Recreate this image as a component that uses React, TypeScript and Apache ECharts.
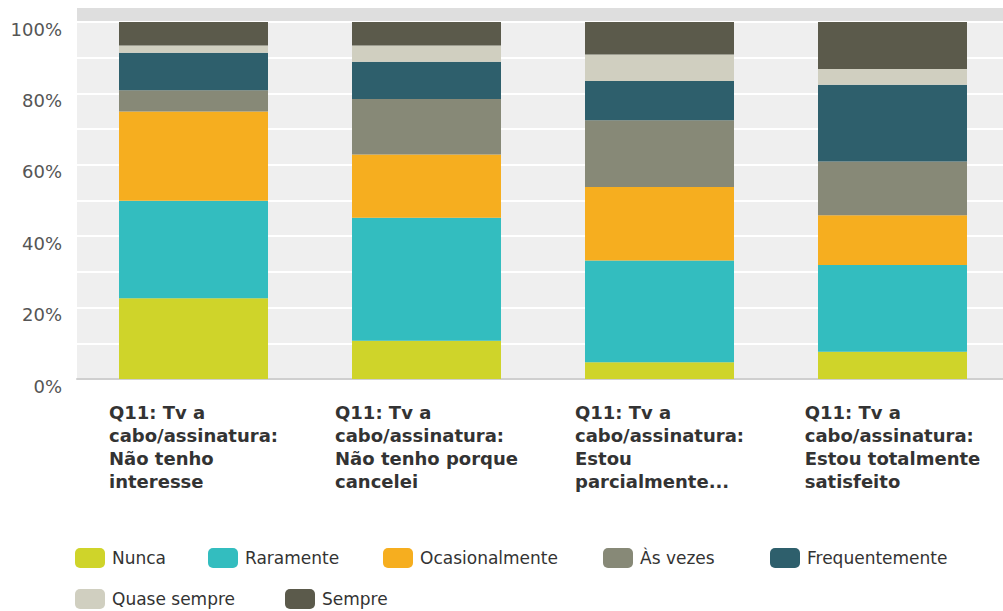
import React, { useEffect, useRef } from "react";
import * as echarts from "echarts";

const categories = [
  "Q11: Tv a\ncabo/assinatura:\nNão tenho\ninteresse",
  "Q11: Tv a\ncabo/assinatura:\nNão tenho porque\ncancelei",
  "Q11: Tv a\ncabo/assinatura:\nEstou\nparcialmente...",
  "Q11: Tv a\ncabo/assinatura:\nEstou totalmente\nsatisfeito",
];

const seriesNames = [
  "Nunca",
  "Raramente",
  "Ocasionalmente",
  "Às vezes",
  "Frequentemente",
  "Quase sempre",
  "Sempre",
];

const nunca = [22.6, 10.7, 4.7, 7.6];
const raramente = [27.3, 34.5, 28.5, 24.3];
const ocasionalmente = [25.0, 17.7, 20.6, 14.0];
const asVezes = [6.0, 15.5, 18.7, 15.0];
const frequentemente = [10.5, 10.5, 11.0, 21.5];
const quaseSempre = [2.0, 4.5, 7.4, 4.4];
const sempre = [6.6, 6.6, 9.1, 13.2];

const seriesValues = [nunca, raramente, ocasionalmente, asVezes, frequentemente, quaseSempre, sempre];

const colors = ["#cfd42a", "#33bdbf", "#f6ae1f", "#878977", "#2e5f6c", "#d0cfc0", "#5b5a4b"];

const yTicks = [0, 20, 40, 60, 80, 100];

// legend item placement (left, top) for each series
const legendLeft = [75, 208, 383, 603, 770, 75, 285];
const legendTop = [548, 548, 548, 548, 548, 589, 589];

const FONT = "DejaVu Sans";

export default function App() {
  const ref = useRef<HTMLDivElement>(null);

  useEffect(() => {
    if (!ref.current) return;
    const chart = echarts.init(ref.current, null, { renderer: "svg" });
    chart.setOption({
      animation: false,
      color: colors,
      grid: {
        left: 77,
        top: 22,
        width: 932,
        height: 357,
        show: true,
        backgroundColor: "#efefef",
        borderWidth: 0,
      },
      graphic: [
        {
          type: "rect",
          shape: { x: 77, y: 8, width: 940, height: 14 },
          style: { fill: "#dedede" },
          z: -1,
          silent: true,
        },
        {
          type: "rect",
          shape: { x: 77, y: 8, width: 3, height: 371 },
          style: { fill: "#dedede" },
          z: -1,
          silent: true,
        },
      ],
      legend: seriesNames.map((name, i) => ({
        data: [name],
        left: legendLeft[i],
        top: legendTop[i],
        padding: 0,
        itemWidth: 30,
        itemHeight: 20,
        icon: "roundRect",
        textStyle: { fontFamily: FONT, fontSize: 17, color: "#333", padding: [0, 0, 0, 2] },
      })),
      xAxis: {
        type: "category",
        data: categories,
        axisLine: { show: true, lineStyle: { color: "#cfcfcf", width: 2 } },
        axisTick: { show: false },
        axisLabel: {
          interval: 0,
          margin: 22,
          align: "center",
          formatter: (v: string) =>
            v
              .split("\n")
              .map((l) => `{a|${l}}`)
              .join("\n"),
          rich: {
            a: {
              align: "left",
              fontFamily: FONT,
              fontWeight: "bold",
              fontSize: 18,
              lineHeight: 23,
              color: "#333",
            },
          },
        },
      },
      yAxis: {
        type: "value",
        min: 0,
        max: 100,
        interval: 10,
        axisLine: { show: false },
        axisTick: { show: false },
        splitLine: { show: true, lineStyle: { color: "#ffffff", width: 2 } },
        axisLabel: {
          margin: 15,
          fontFamily: FONT,
          fontSize: 18,
          color: "#555",
          verticalAlign: "top",
          lineHeight: 14,
          formatter: (v: number) => (yTicks.includes(v) ? v + "%" : ""),
        },
      },
      series: seriesNames.map((name, i) => ({
        name,
        type: "bar",
        stack: "total",
        barWidth: 149,
        data: seriesValues[i],
        itemStyle: { color: colors[i] },
      })),
    });
    return () => chart.dispose();
  }, []);

  return (
    <div
      ref={ref}
      style={{ position: "fixed", left: 0, top: 0, width: 1012, height: 611, background: "#fff" }}
    />
  );
}
